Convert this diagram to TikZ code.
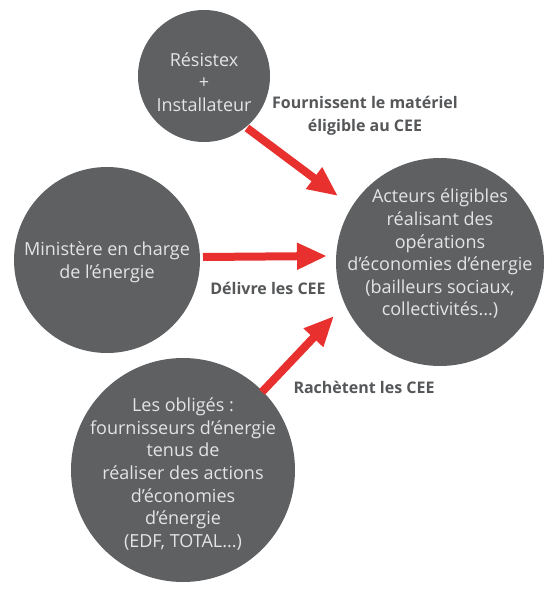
\documentclass[tikz,border=0pt]{standalone}
\usepackage{fontspec}
\setmainfont{Open Sans}
\usetikzlibrary{arrows.meta}
\definecolor{disc}{HTML}{5E6062}
\definecolor{disctext}{HTML}{E4E4E4}
\definecolor{lbl}{HTML}{555759}
\definecolor{arr}{HTML}{E8302E}
\tikzset{
  discnode/.style={circle, fill=disc, draw=none, inner sep=0pt},
  intext/.style={text=disctext, align=center, font=\fontsize{18}{22.6}\selectfont, inner sep=0pt},
  lbltext/.style={text=lbl, align=center, font=\fontsize{16}{23}\selectfont\bfseries, inner sep=0pt},
  redarrow/.style={draw=arr, line width=8pt, -{Triangle[length=30pt,width=25pt]}}
}
\begin{document}
\begin{tikzpicture}[x=1pt,y=-1pt]
\useasboundingbox (0,0) rectangle (548,589);
\fill[white] (0,0) rectangle (548,589);
% discs
\node[discnode, minimum size=132pt] (res) at (204,76) {};
\node[discnode, minimum size=186pt] (min) at (107,260) {};
\node[discnode, minimum size=208pt] (act) at (440,262) {};
\node[discnode, minimum size=224pt] (obl) at (183,470) {};
% texts in discs
\node[intext] (restext) at (204,82) {Résistex\\+\\Installateur};
\node[intext] (mintext) at (107,262) {Ministère en charge\\de l’énergie};
\node[intext] (acttext) at (440,254) {Acteurs éligibles\\réalisant des\\opérations\\d’économies d’énergie\\(bailleurs sociaux,\\collectivités...)};
\node[intext] (obltext) at (183,474) {Les obligés :\\fournisseurs d’énergie\\tenus de\\réaliser des actions\\d’économies\\d’énergie\\(EDF, TOTAL...)};
% arrow anchor points
\coordinate (a1s) at (247,128);
\coordinate (a1e) at (338,196);
\coordinate (a2s) at (203,257);
\coordinate (a2e) at (327,256);
\coordinate (a3s) at (262,392);
\coordinate (a3e) at (334,316);
\draw[redarrow] (a1s) -- (a1e);
\draw[redarrow] (a2s) -- (a2e);
\draw[redarrow] (a3s) -- (a3e);
% labels
\node[lbltext] (l1) at (365,116) {Fournissent le matériel\\éligible au CEE};
\node[lbltext] (l2) at (268,288) {Délivre les CEE};
\node[lbltext] (l3) at (364,387) {Rachètent les CEE};
\end{tikzpicture}
\end{document}
